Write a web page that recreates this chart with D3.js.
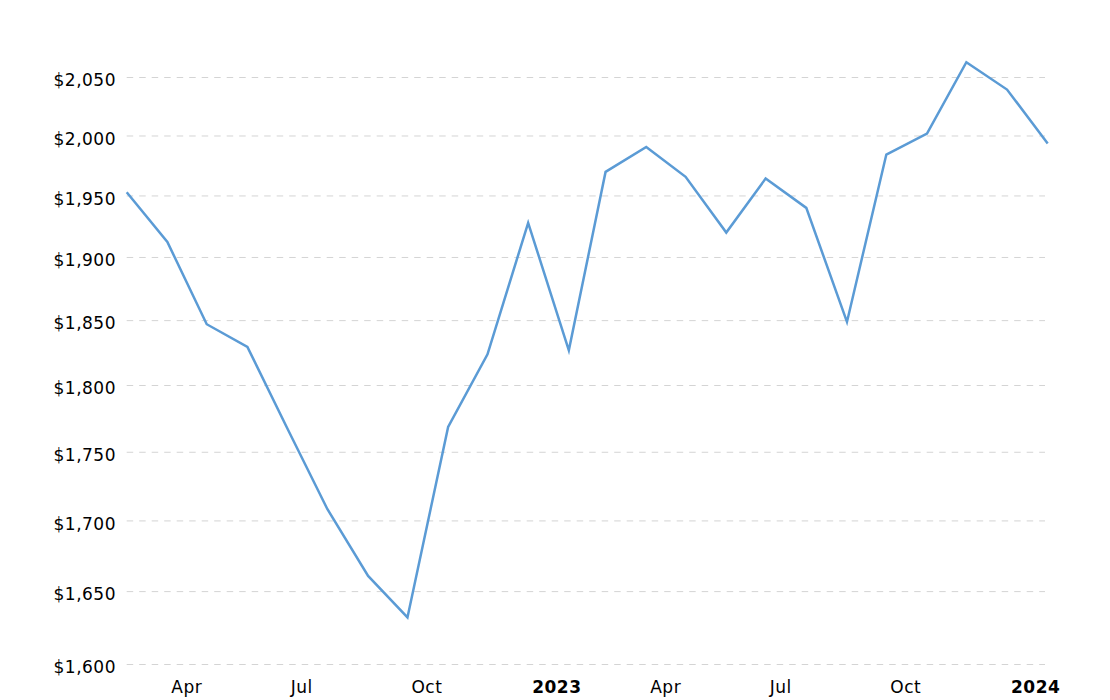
<!DOCTYPE html>
<html>
<head>
<meta charset="utf-8">
<script src="https://cdn.jsdelivr.net/npm/d3@7"></script>
<style>
  html, body { margin: 0; padding: 0; background: #fff; }
  svg { display: block; }
  text { font-family: "DejaVu Sans", Verdana, sans-serif; font-size: 17px; fill: #000; letter-spacing: 0.5px; }
</style>
</head>
<body>
<svg id="chart" width="1110" height="700"></svg>
<script>
// Monthly values (first day of each month)
const months = ["2022-03","2022-04","2022-05","2022-06","2022-07","2022-08","2022-09","2022-10",
  "2022-11","2022-12","2023-01","2023-02","2023-03","2023-04","2023-05","2023-06","2023-07",
  "2023-08","2023-09","2023-10","2023-11","2023-12","2024-01","2024-02"];
const prices = [1953.1, 1912.5, 1847.2, 1829.6, 1768.6, 1708.4, 1661.0, 1632.1,
  1768.8, 1823.9, 1928.0, 1827.0, 1969.9, 1990.8, 1965.8, 1920.1, 1964.4,
  1940.2, 1849.0, 1984.4, 2002.1, 2063.3, 2039.6, 1993.7];
const yTicks = [1600, 1650, 1700, 1750, 1800, 1850, 1900, 1950, 2000, 2050];
const xTickDates = ["2022-04","2022-07","2022-10","2023-01","2023-04","2023-07","2023-10","2024-01"];

const parse = d3.timeParse("%Y-%m");
const data = months.map((m, i) => ({ date: parse(m), value: prices[i] }));

const svg = d3.select("#chart");
const left = 126.7, right = 1047.7;

const x = d3.scaleTime()
  .domain([parse(months[0]), parse(months[months.length - 1])])
  .range([left, right]);
const y = d3.scaleLog()
  .domain([1600, 2050])
  .range([664.5, 77.5]);

// gridlines
svg.append("g").selectAll("line").data(yTicks).join("line")
  .attr("x1", left).attr("x2", 1045)
  .attr("y1", d => y(d)).attr("y2", d => y(d))
  .attr("stroke", "#d4d4d4").attr("stroke-width", 1)
  .attr("stroke-dasharray", "6.5,6");

// y labels
const fmt = d3.format(",");
svg.append("g").selectAll("text").data(yTicks).join("text")
  .attr("x", 116).attr("y", d => y(d) + 8.7)
  .attr("text-anchor", "end")
  .text(d => "$" + fmt(d));

// x labels
const xFmt = d => d.getMonth() === 0 ? d3.timeFormat("%Y")(d) : d3.timeFormat("%b")(d);
svg.append("g").selectAll("text").data(xTickDates.map(parse)).join("text")
  .attr("x", d => x(d) + 4).attr("y", 693.3)
  .attr("text-anchor", "start")
  .style("font-weight", d => d.getMonth() === 0 ? "bold" : "normal")
  .text(xFmt);

// line
const line = d3.line().x(d => x(d.date)).y(d => y(d.value));
svg.append("path").datum(data)
  .attr("d", line)
  .attr("fill", "none")
  .attr("stroke", "#5b9bd5")
  .attr("stroke-width", 2.5)
  .attr("stroke-linejoin", "miter");
</script>
</body>
</html>
